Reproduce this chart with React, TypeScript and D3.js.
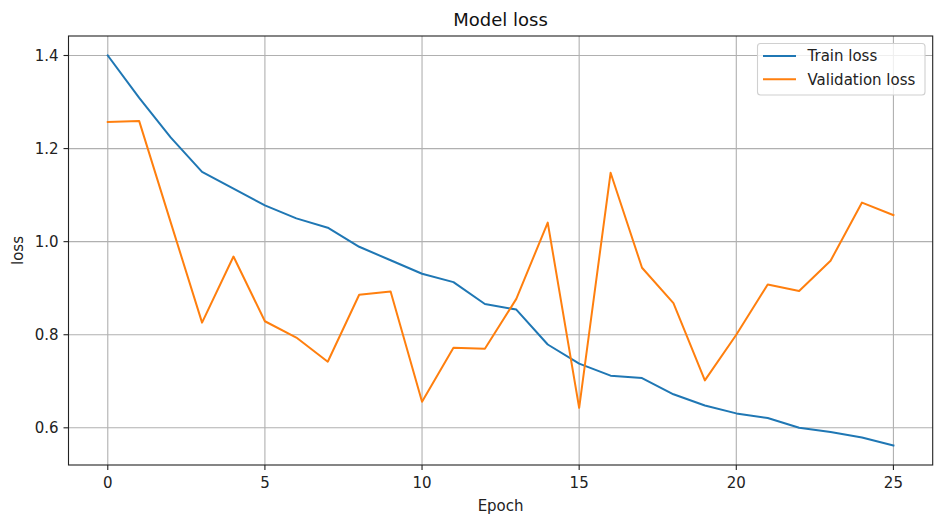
import React from "react";
import * as d3 from "d3";

const epochs = d3.range(0, 26);
const trainLoss = [1.4, 1.309, 1.224, 1.15, 1.114, 1.078, 1.05, 1.03, 0.989, 0.96, 0.931, 0.913, 0.866, 0.854, 0.779, 0.738, 0.712, 0.707, 0.672, 0.648, 0.631, 0.621, 0.6, 0.591, 0.579, 0.562];
const valLoss = [1.257, 1.259, 1.042, 0.826, 0.968, 0.829, 0.794, 0.742, 0.886, 0.893, 0.656, 0.772, 0.77, 0.877, 1.041, 0.643, 1.148, 0.944, 0.868, 0.702, 0.8, 0.908, 0.894, 0.959, 1.084, 1.057];
const xTicks = [0, 5, 10, 15, 20, 25];
const yTicks = [0.6, 0.8, 1.0, 1.2, 1.4];
const seriesNames = ["Train loss", "Validation loss"];
const colors = ["#1f77b4", "#ff7f0e"];

export default function App() {
  const W = 945, H = 525;
  const left = 68.5, right = 932.7, top = 36, bottom = 465;
  const x = d3.scaleLinear().domain([-1.25, 26.25]).range([left, right]);
  const allVals = [...trainLoss, ...valLoss];
  const mn = d3.min(allVals)!, mx = d3.max(allVals)!;
  const pad = (mx - mn) * 0.05;
  const y = d3.scaleLinear().domain([mn - pad, mx + pad]).range([bottom, top]);
  const line = d3.line<number>().x((_, i) => x(epochs[i])).y((d) => y(d));
  const font = "DejaVu Sans, sans-serif";
  const series = [trainLoss, valLoss];

  return (
    <svg width={W} height={H} style={{ position: "absolute", left: 0, top: 0 }} fontFamily={font}>
      <rect width={W} height={H} fill="#fff" />
      {xTicks.map((t) => (
        <line key={"gx" + t} x1={x(t)} x2={x(t)} y1={top} y2={bottom} stroke="#b0b0b0" strokeWidth={1.1} />
      ))}
      {yTicks.map((t) => (
        <line key={"gy" + t} x1={left} x2={right} y1={y(t)} y2={y(t)} stroke="#b0b0b0" strokeWidth={1.1} />
      ))}
      {series.map((s, i) => (
        <path key={i} d={line(s)!} fill="none" stroke={colors[i]} strokeWidth={2} strokeLinejoin="round" strokeLinecap="square" />
      ))}
      <rect x={left} y={top} width={right - left} height={bottom - top} fill="none" stroke="#222" strokeWidth={1.1} />
      {xTicks.map((t) => (
        <g key={"tx" + t}>
          <line x1={x(t)} x2={x(t)} y1={bottom} y2={bottom + 5} stroke="#222" strokeWidth={1.1} />
          <text x={x(t)} y={bottom + 23} textAnchor="middle" fontSize={15} fill="#222">{t}</text>
        </g>
      ))}
      {yTicks.map((t) => (
        <g key={"ty" + t}>
          <line x1={left - 5} x2={left} y1={y(t)} y2={y(t)} stroke="#222" strokeWidth={1.1} />
          <text x={left - 10} y={y(t)} dy="0.35em" textAnchor="end" fontSize={15} fill="#222">{t.toFixed(1)}</text>
        </g>
      ))}
      <text x={(left + right) / 2} y={26} textAnchor="middle" fontSize={18} fill="#111">Model loss</text>
      <text x={(left + right) / 2} y={511} textAnchor="middle" fontSize={15} fill="#222">Epoch</text>
      <text transform={`translate(23,${(top + bottom) / 2}) rotate(-90)`} textAnchor="middle" fontSize={15} fill="#222">loss</text>
      <rect x={757.5} y={43.5} width={167.5} height={51.5} rx={3} fill="#fff" fillOpacity={0.8} stroke="#d0d0d0" strokeWidth={1.1} />
      {seriesNames.map((n, i) => (
        <g key={n}>
          <line x1={763} x2={796} y1={56 + i * 23.3} y2={56 + i * 23.3} stroke={colors[i]} strokeWidth={2} />
          <text x={807.5} y={56 + i * 23.3} dy="0.35em" fontSize={15} fill="#222">{n}</text>
        </g>
      ))}
    </svg>
  );
}
